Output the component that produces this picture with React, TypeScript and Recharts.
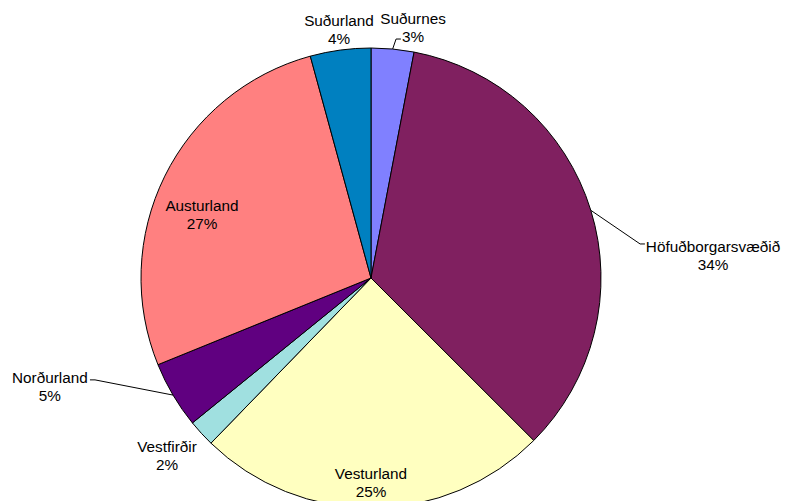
import { PieChart, Pie, Cell } from 'recharts';

// share of total per region
const regions = ['Suðurnes', 'Höfuðborgarsvæðið', 'Vesturland', 'Vestfirðir', 'Norðurland', 'Austurland', 'Suðurland'];
const shares = [3.0, 34.49, 24.76, 1.9, 4.7, 26.9, 4.25];
const colors = ['#8080FF', '#802060', '#FFFFC0', '#A0E0E0', '#600080', '#FF8080', '#0080C0'];

const data = regions.map((name, i) => ({ name, value: shares[i] }));

// label placement, as fractions of the pie radius from its centre
// t = text block centre, e = leader elbow, end = leader end next to the text
const labelLayout: Record<string, { t: [number, number]; e?: [number, number]; end?: [number, number] }> = {
  'Suðurnes': { t: [0.183, -1.091], e: [0.109, -1.039], end: [0.13, -1.039] },
  'Höfuðborgarsvæðið': { t: [1.487, -0.1], e: [1.17, -0.148], end: [1.191, -0.148] },
  'Vesturland': { t: [0, 0.887] },
  'Vestfirðir': { t: [-0.887, 0.77] },
  'Norðurland': { t: [-1.396, 0.47], e: [-1.2, 0.443], end: [-1.222, 0.443] },
  'Austurland': { t: [-0.735, -0.278] },
  'Suðurland': { t: [-0.139, -1.08] },
};

const RADIAN = Math.PI / 180;
const font = "'Liberation Sans', Arial, sans-serif";

const renderLabel = (props: any) => {
  const { cx, cy, midAngle, outerRadius, percent, name } = props;
  const lay = labelLayout[name];
  if (!lay) return null;
  const tx = cx + lay.t[0] * outerRadius;
  const ty = cy + lay.t[1] * outerRadius;
  const sx = cx + outerRadius * Math.cos(-midAngle * RADIAN);
  const sy = cy + outerRadius * Math.sin(-midAngle * RADIAN);
  return (
    <g>
      {lay.e && lay.end && (
        <polyline
          points={`${sx},${sy} ${cx + lay.e[0] * outerRadius},${cy + lay.e[1] * outerRadius} ${cx + lay.end[0] * outerRadius},${cy + lay.end[1] * outerRadius}`}
          fill="none"
          stroke="#000"
          strokeWidth={1}
        />
      )}
      <text x={tx} y={ty - 9} textAnchor="middle" dominantBaseline="central" fill="#000" fontSize={15.3} fontFamily={font}>
        {name}
      </text>
      <text x={tx} y={ty + 9} textAnchor="middle" dominantBaseline="central" fill="#000" fontSize={15.3} fontFamily={font}>
        {Math.round(percent * 100)}%
      </text>
    </g>
  );
};

export default function App() {
  return (
    <div style={{ position: 'absolute', left: 0, top: 0, width: 785, height: 501, background: '#fff' }}>
      <PieChart width={785} height={501} margin={{ top: 0, right: 0, bottom: 0, left: 0 }}>
        <Pie
          data={data}
          dataKey="value"
          nameKey="name"
          cx={371}
          cy={278}
          outerRadius={230}
          startAngle={90}
          endAngle={-270}
          stroke="#000"
          strokeWidth={1}
          label={renderLabel}
          labelLine={false}
          isAnimationActive={false}
        >
          {data.map((d, i) => (
            <Cell key={d.name} fill={colors[i]} />
          ))}
        </Pie>
      </PieChart>
    </div>
  );
}
